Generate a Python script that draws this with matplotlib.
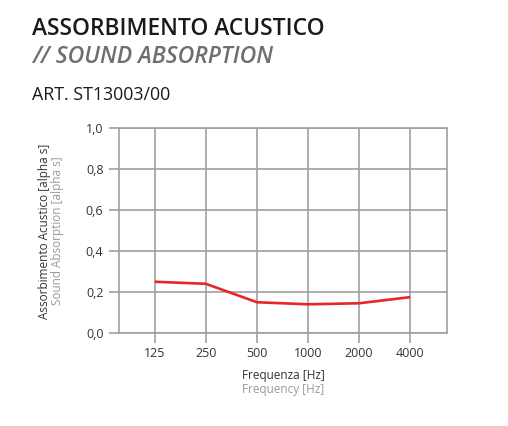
import matplotlib
matplotlib.use("Agg")
import matplotlib.pyplot as plt

plt.rcParams['font.family'] = ['Open Sans', 'DejaVu Sans']

frequencies = ["125", "250", "500", "1000", "2000", "4000"]
alpha_s = [0.25, 0.24, 0.15, 0.14, 0.145, 0.175]
y_ticks = [0.0, 0.2, 0.4, 0.6, 0.8, 1.0]
y_tick_labels = ["0,0", "0,2", "0,4", "0,6", "0,8", "1,0"]

W, H = 508, 426
fig = plt.figure(figsize=(W / 100, H / 100), dpi=100)

def px(x, y):
    return x / W, 1 - y / H

L, R, T, B = 119, 447, 128, 333
ax = fig.add_axes([L / W, 1 - B / H, (R - L) / W, (B - T) / H])

grid_c = "#a0a0a0"
xs = list(range(len(frequencies)))
ax.plot(xs, alpha_s, color="#e8262a", lw=1.9, solid_capstyle="butt", zorder=3)

ax.set_xlim(-0.7, 5.72)
ax.set_ylim(0, 1)
ax.set_xticks(xs)
ax.set_xticklabels(frequencies)
ax.set_yticks(y_ticks)
ax.set_yticklabels(y_tick_labels)
ax.grid(True, color=grid_c, lw=1.2)
for s in ax.spines.values():
    s.set_color(grid_c)
    s.set_linewidth(1.2)
ax.tick_params(axis="both", length=7.2, width=1.2, color=grid_c,
               labelsize=9, labelcolor="#333333")
ax.tick_params(axis="y", pad=4)
ax.tick_params(axis="x", pad=3)

# axis labels
fig.text(*px(283, 376), "Frequenza [Hz]", ha="center", va="center",
         fontsize=8.5, color="#333333")
fig.text(*px(283, 389), "Frequency [Hz]", ha="center", va="center",
         fontsize=8.5, color="#999999")
fig.text(*px(45, 231), "Assorbimento Acustico [alpha s]", ha="center", va="center",
         rotation=90, fontsize=8.5, color="#333333")
fig.text(*px(58, 231), "Sound Absorption [alpha s]", ha="center", va="center",
         rotation=90, fontsize=8.5, color="#999999")

# titles
fig.text(*px(32, 29), "ASSORBIMENTO ACUSTICO", ha="left", va="center",
         fontsize=16.4, fontweight="semibold", color="#1a1a1a")
fig.text(*px(32, 57), "// SOUND ABSORPTION", ha="left", va="center",
         fontsize=16.6, fontweight="semibold", fontstyle="italic", color="#6f6f6f")
fig.text(*px(32, 95), "ART. ST13003/00", ha="left", va="center",
         fontsize=12.8, color="#1a1a1a")

fig.savefig("out.png", dpi=100)
